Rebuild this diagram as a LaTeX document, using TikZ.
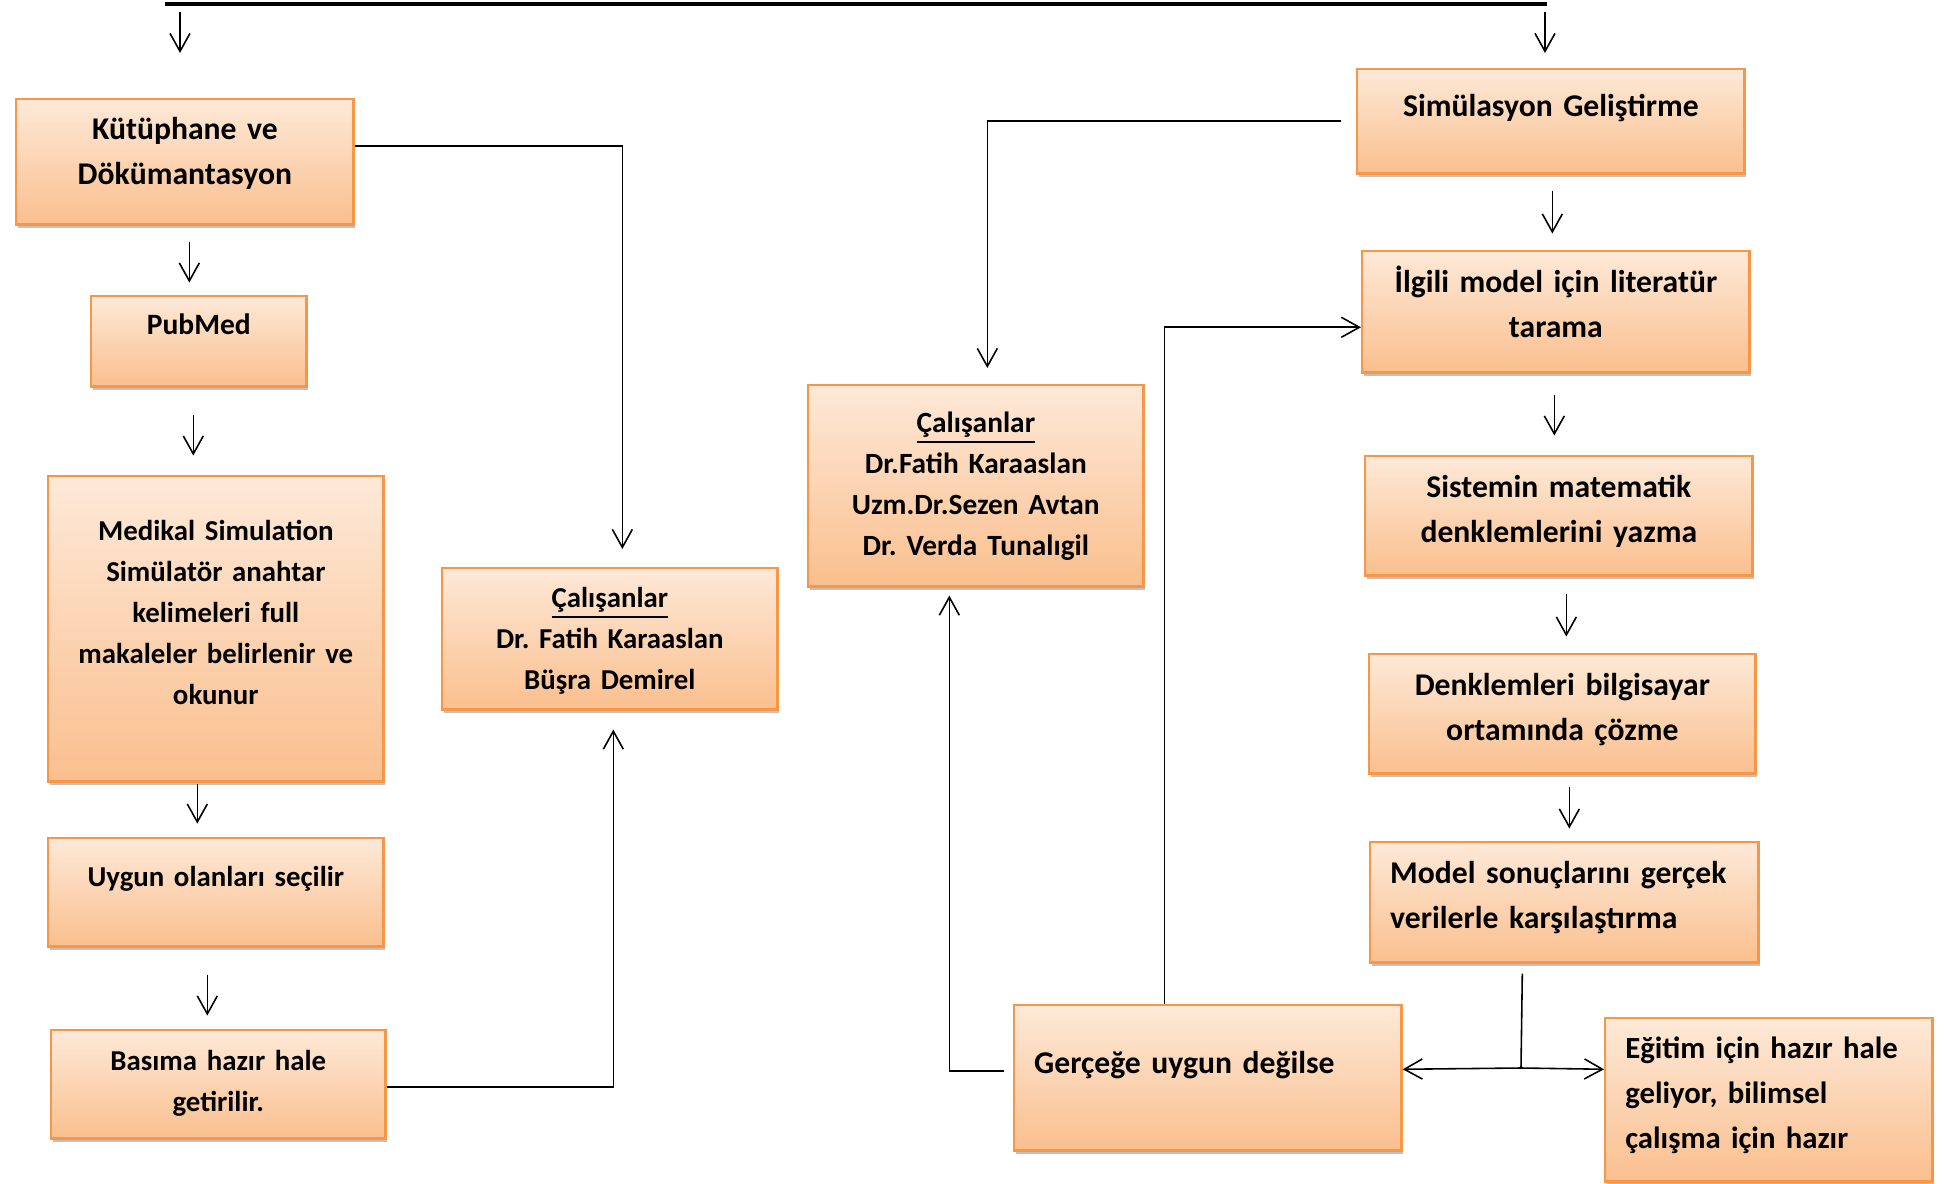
\documentclass[tikz,border=0pt]{standalone}
\usepackage{fontspec}
\setmainfont{Carlito}
\frenchspacing
\usetikzlibrary{arrows.meta,shadows}
\definecolor{boxedge}{RGB}{247,150,70}
\definecolor{boxtop}{RGB}{253,233,216}
\definecolor{boxbot}{RGB}{250,191,142}
\tikzset{
  box/.style={draw=boxedge, line width=0.7pt, top color=boxtop, bottom color=boxbot,
    drop shadow={shadow xshift=0.015cm, shadow yshift=-0.035cm, opacity=0.35, fill=black!70},
    anchor=north west, inner xsep=0.1cm, inner ysep=0pt, align=center,
    font=\fontsize{9}{12.8}\selectfont\bfseries},
  fs/.style 2 args={font=\fontsize{#1}{#2}\selectfont\bfseries},
  lefttext/.style={align=left, inner xsep=0.2cm},
  dims/.style n args={3}{text width=#1, text height=#2, text depth=#3},
  arr/.style={-{Straight Barb[length=0.18cm,width=0.2cm]}, line width=0.45pt},
}
\begin{document}
\begin{tikzpicture}[x=0.01cm,y=0.01cm]
\useasboundingbox (0,0) rectangle (1944,-1184);
\coordinate (barL) at (165,-4);
\coordinate (barR) at (1547,-4);
\draw[line width=1.4pt] (barL) -- (barR);

% left column
\node[box, dims={3.17cm}{0.40cm}{0.85cm}] (kut) at (15,-98) {Kütüphane ve\\Dökümantasyon};
\node[box, fs={8.4}{12}, dims={1.95cm}{0.38cm}{0.52cm}] (pub) at (90,-295) {PubMed};
\node[box, fs={8.2}{11.7}, dims={3.15cm}{0.64cm}{2.41cm}] (med) at (47,-475)
  {Medikal Simulation\\Simülatör anahtar\\kelimeleri full\\makaleler belirlenir ve\\okunur};
\node[box, fs={8.2}{11.7}, dims={3.15cm}{0.48cm}{0.60cm}] (uyg) at (47,-837) {Uygun olanları seçilir};
\node[box, fs={8.2}{11.7}, dims={3.14cm}{0.40cm}{0.68cm}] (bas) at (50,-1029) {Basıma hazır hale\\getirilir.};
\node[box, fs={8.2}{11.7}, dims={3.15cm}{0.39cm}{1.02cm}] (cal1) at (441,-567)
  {\underline{Çalışanlar}\\Dr. Fatih Karaaslan\\Büşra Demirel};

% middle
\node[box, fs={8.35}{11.7}, dims={3.15cm}{0.47cm}{1.54cm}] (cal2) at (807,-384)
  {\underline{Çalışanlar}\\Dr.Fatih Karaaslan\\Uzm.Dr.Sezen Avtan\\Dr. Verda Tunalıgil};
\node[box, lefttext, dims={3.47cm}{0.68cm}{0.77cm}] (ger) at (1013,-1004) {Gerçeğe uygun değilse};

% right column
\node[box, dims={3.67cm}{0.47cm}{0.57cm}] (sim) at (1356,-68) {Simülasyon Geliştirme};
\node[box, dims={3.67cm}{0.41cm}{0.80cm}] (ilg) at (1361,-250) {İlgili model için literatür\\tarama};
\node[box, dims={3.67cm}{0.41cm}{0.78cm}] (sis) at (1364,-455) {Sistemin matematik\\denklemlerini yazma};
\node[box, dims={3.66cm}{0.41cm}{0.78cm}] (den) at (1368,-653) {Denklemleri bilgisayar\\ortamında çözme};
\node[box, lefttext, dims={3.48cm}{0.41cm}{0.79cm}] (mod) at (1369,-841)
  {Model sonuçlarını gerçek\\verilerle karşılaştırma};
\node[box, lefttext, fs={8.75}{12.8}, dims={2.87cm}{0.40cm}{1.23cm}] (egi) at (1604,-1017)
  {Eğitim için hazır hale\\geliyor, bilimsel\\çalışma için hazır};

% short arrows
\draw[arr] ([shift={(0.15cm,-0.08cm)}]barL) -- ++(0,-41);
\draw[arr] ([shift={(-0.02cm,-0.08cm)}]barR) -- ++(0,-41);
\draw[arr] ([shift={(0.045cm,-0.16cm)}]kut.south) -- ++(0,-41);
\draw[arr] ([shift={(-0.055cm,-0.27cm)}]pub.south) -- ++(0,-41);
\draw[arr] ([shift={(-0.185cm,-0.01cm)}]med.south) -- ++(0,-40);
\draw[arr] ([shift={(-0.085cm,-0.27cm)}]uyg.south) -- ++(0,-41);
\draw[arr] ([shift={(0.015cm,-0.16cm)}]sim.south) -- ++(0,-43);
\draw[arr] ([shift={(-0.015cm,-0.21cm)}]ilg.south) -- ++(0,-41);
\draw[arr] ([shift={(0.075cm,-0.17cm)}]sis.south) -- ++(0,-43);
\draw[arr] ([shift={(0.07cm,-0.12cm)}]den.south) -- ++(0,-42);

% long connectors
\draw[arr] ([yshift=0.16cm]kut.east) -| ([shift={(0.125cm,0.18cm)}]cal1.north);
\draw[arr] ([yshift=-0.03cm]bas.east) -| ([shift={(0.035cm,-0.19cm)}]cal1.south);
\draw[arr] ([xshift=-0.15cm]sim.west) -| ([shift={(0.115cm,0.16cm)}]cal2.north);
\draw[arr] ([shift={(-0.09cm,0.065cm)}]ger.west) -| ([shift={(-0.265cm,-0.08cm)}]cal2.south);
\draw[arr] ([xshift=-0.435cm]ger.north) |- ([yshift=-0.155cm]ilg.west);
\coordinate (split) at (1521,-1068);
\draw[line width=0.45pt] ([shift={(-0.42cm,-0.1cm)}]mod.south) -- (split);
\draw[arr] (split) -- ([yshift=0.085cm]ger.east);
\draw[arr] (split) -- ([yshift=0.305cm]egi.west);
\end{tikzpicture}
\end{document}
